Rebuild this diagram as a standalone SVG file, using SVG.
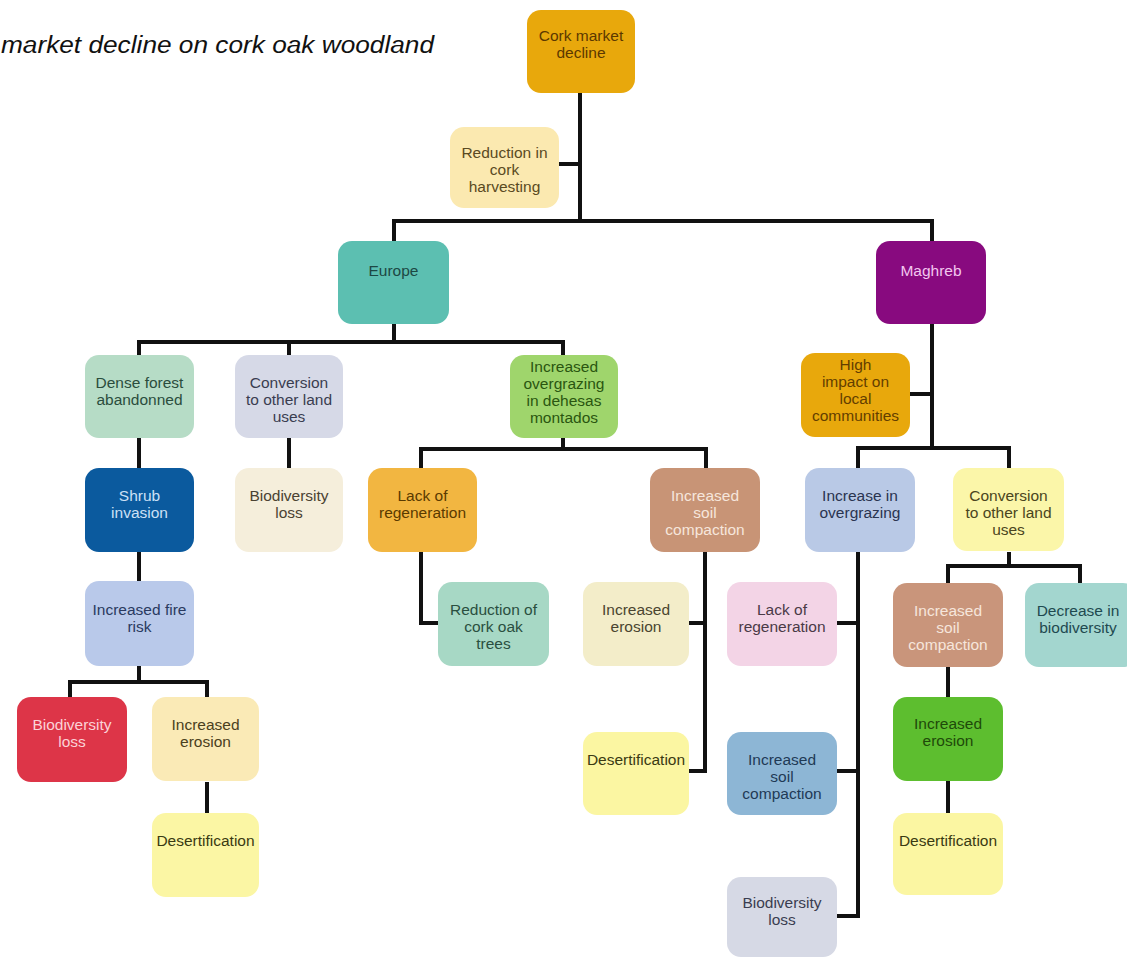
<svg xmlns="http://www.w3.org/2000/svg" width="1127" height="959" viewBox="0 0 1127 959">
<style>
  .n rect { rx: 14px; ry: 14px; }
  text { font-family: "Liberation Sans", Arial, sans-serif; font-size: 15.5px; text-anchor: middle; }
  .title { font-size: 23px; font-style: italic; text-anchor: start; fill: #111; }
  .c path { fill: none; stroke: #111; stroke-width: 4; stroke-linejoin: miter; stroke-linecap: butt; }
</style>
<rect width="1127" height="959" fill="#ffffff"/>
<text class="title" x="1" y="53" textLength="433" lengthAdjust="spacingAndGlyphs">market decline on cork oak woodland</text>

<g class="c" id="connectors">
  <path d="M580 93 V221"/>
  <path d="M559 164 H580"/>
  <path d="M394 241 V221 H932 V241"/>
  <path d="M394 324 V342"/>
  <path d="M139 355 V342 H563 V355"/>
  <path d="M289 342 V355"/>
  <path d="M139 438 V468"/>
  <path d="M139 552 V581"/>
  <path d="M289 438 V468"/>
  <path d="M563 438 V449"/>
  <path d="M421 468 V449 H706 V468"/>
  <path d="M139 666 V682"/>
  <path d="M70 697 V682 H207 V697"/>
  <path d="M207 782 V813"/>
  <path d="M421 552 V623 H438"/>
  <path d="M689 623 H705 V552"/>
  <path d="M705 623 V771 H689"/>
  <path d="M932 324 V448"/>
  <path d="M910 394 H932"/>
  <path d="M858 468 V448 H1009 V468"/>
  <path d="M858 552 V916 H837"/>
  <path d="M837 623 H858"/>
  <path d="M837 771 H858"/>
  <path d="M1009 552 V566"/>
  <path d="M948 583 V566 H1080 V583"/>
  <path d="M948 667 V697"/>
  <path d="M948 781 V813"/>
</g>

<g class="n" id="cork-market-decline">
  <rect x="527" y="10" width="108" height="83" fill="#e8a80c"/>
  <text fill="#5c3800"><tspan x="581" y="41">Cork market</tspan><tspan x="581" y="58">decline</tspan></text>
</g>
<g class="n" id="reduction-cork-harvesting">
  <rect x="450" y="127" width="109" height="81" fill="#fbe9b0"/>
  <text fill="#5a4a22"><tspan x="504.5" y="158">Reduction in</tspan><tspan x="504.5" y="175">cork</tspan><tspan x="504.5" y="192">harvesting</tspan></text>
</g>
<g class="n" id="europe">
  <rect x="338" y="241" width="111" height="83" fill="#5cbfb1"/>
  <text fill="#1d4844"><tspan x="393.5" y="276">Europe</tspan></text>
</g>
<g class="n" id="maghreb">
  <rect x="876" y="241" width="110" height="83" fill="#880a7f"/>
  <text fill="#f2c6ef"><tspan x="931" y="276">Maghreb</tspan></text>
</g>
<g class="n" id="dense-forest">
  <rect x="85" y="355" width="109" height="83" fill="#b6dcc6"/>
  <text fill="#2b4d3d"><tspan x="139.5" y="388">Dense forest</tspan><tspan x="139.5" y="405">abandonned</tspan></text>
</g>
<g class="n" id="conversion-europe">
  <rect x="235" y="355" width="108" height="83" fill="#d6d9e7"/>
  <text fill="#3a3d50"><tspan x="289" y="388">Conversion</tspan><tspan x="289" y="405">to other land</tspan><tspan x="289" y="422">uses</tspan></text>
</g>
<g class="n" id="overgrazing-dehesas">
  <rect x="510" y="355" width="108" height="83" fill="#9fd56c"/>
  <text fill="#2a5610"><tspan x="564" y="372">Increased</tspan><tspan x="564" y="389">overgrazing</tspan><tspan x="564" y="406">in dehesas</tspan><tspan x="564" y="423">montados</tspan></text>
</g>
<g class="n" id="high-impact">
  <rect x="801" y="353" width="109" height="84" fill="#e8a80c"/>
  <text fill="#633e00"><tspan x="855.5" y="370">High</tspan><tspan x="855.5" y="387">impact on</tspan><tspan x="855.5" y="404">local</tspan><tspan x="855.5" y="421">communities</tspan></text>
</g>
<g class="n" id="shrub-invasion">
  <rect x="85" y="468" width="109" height="84" fill="#0b5a9e"/>
  <text fill="#cde0f6"><tspan x="139.5" y="501">Shrub</tspan><tspan x="139.5" y="518">invasion</tspan></text>
</g>
<g class="n" id="biodiversity-loss-europe">
  <rect x="235" y="468" width="108" height="84" fill="#f5eedb"/>
  <text fill="#4a4232"><tspan x="289" y="501">Biodiversity</tspan><tspan x="289" y="518">loss</tspan></text>
</g>
<g class="n" id="lack-regeneration-europe">
  <rect x="368" y="468" width="109" height="84" fill="#f2b641"/>
  <text fill="#5a3a00"><tspan x="422.5" y="501">Lack of</tspan><tspan x="422.5" y="518">regeneration</tspan></text>
</g>
<g class="n" id="soil-compaction-europe">
  <rect x="650" y="468" width="110" height="84" fill="#c89476"/>
  <text fill="#f6e6dc"><tspan x="705" y="501">Increased</tspan><tspan x="705" y="518">soil</tspan><tspan x="705" y="535">compaction</tspan></text>
</g>
<g class="n" id="increase-overgrazing">
  <rect x="805" y="468" width="110" height="84" fill="#b9c9e6"/>
  <text fill="#2a3450"><tspan x="860" y="501">Increase in</tspan><tspan x="860" y="518">overgrazing</tspan></text>
</g>
<g class="n" id="conversion-maghreb">
  <rect x="953" y="468" width="111" height="83" fill="#fbf6a9"/>
  <text fill="#4a4520"><tspan x="1008.5" y="501">Conversion</tspan><tspan x="1008.5" y="518">to other land</tspan><tspan x="1008.5" y="535">uses</tspan></text>
</g>
<g class="n" id="fire-risk">
  <rect x="85" y="581" width="109" height="85" fill="#b9c9ea"/>
  <text fill="#2a3a60"><tspan x="139.5" y="615">Increased fire</tspan><tspan x="139.5" y="632">risk</tspan></text>
</g>
<g class="n" id="reduction-cork-oak">
  <rect x="438" y="582" width="111" height="84" fill="#a7d8c5"/>
  <text fill="#2a4f40"><tspan x="493.5" y="615">Reduction of</tspan><tspan x="493.5" y="632">cork oak</tspan><tspan x="493.5" y="649">trees</tspan></text>
</g>
<g class="n" id="erosion-middle">
  <rect x="583" y="582" width="106" height="84" fill="#f3edc9"/>
  <text fill="#4a4530"><tspan x="636" y="615">Increased</tspan><tspan x="636" y="632">erosion</tspan></text>
</g>
<g class="n" id="lack-regeneration-maghreb">
  <rect x="727" y="582" width="110" height="84" fill="#f3d4e6"/>
  <text fill="#4a3a46"><tspan x="782" y="615">Lack of</tspan><tspan x="782" y="632">regeneration</tspan></text>
</g>
<g class="n" id="soil-compaction-maghreb">
  <rect x="893" y="583" width="110" height="84" fill="#c9957b"/>
  <text fill="#f6e6dc"><tspan x="948" y="616">Increased</tspan><tspan x="948" y="633">soil</tspan><tspan x="948" y="650">compaction</tspan></text>
</g>
<g class="n" id="decrease-biodiversity">
  <rect x="1025" y="583" width="112" height="84" fill="#a3d6cf"/>
  <text fill="#1f4a50"><tspan x="1078" y="616">Decrease in</tspan><tspan x="1078" y="633">biodiversity</tspan></text>
</g>
<g class="n" id="biodiversity-loss-red">
  <rect x="17" y="697" width="110" height="85" fill="#dd3548"/>
  <text fill="#fbd2d7"><tspan x="72" y="730">Biodiversity</tspan><tspan x="72" y="747">loss</tspan></text>
</g>
<g class="n" id="erosion-left">
  <rect x="152" y="697" width="107" height="84" fill="#faeab6"/>
  <text fill="#4a4020"><tspan x="205.5" y="730">Increased</tspan><tspan x="205.5" y="747">erosion</tspan></text>
</g>
<g class="n" id="erosion-green">
  <rect x="893" y="697" width="110" height="84" fill="#5dbe2f"/>
  <text fill="#1f4a0a"><tspan x="948" y="729">Increased</tspan><tspan x="948" y="746">erosion</tspan></text>
</g>
<g class="n" id="desertification-middle">
  <rect x="583" y="732" width="106" height="83" fill="#fbf6a2"/>
  <text fill="#3a3a12"><tspan x="636" y="765">Desertification</tspan></text>
</g>
<g class="n" id="soil-compaction-blue">
  <rect x="727" y="732" width="110" height="83" fill="#8db6d5"/>
  <text fill="#1f3a55"><tspan x="782" y="765">Increased</tspan><tspan x="782" y="782">soil</tspan><tspan x="782" y="799">compaction</tspan></text>
</g>
<g class="n" id="desertification-left">
  <rect x="152" y="813" width="107" height="84" fill="#fbf6a4"/>
  <text fill="#3a3a12"><tspan x="205.5" y="846">Desertification</tspan></text>
</g>
<g class="n" id="desertification-right">
  <rect x="893" y="813" width="110" height="82" fill="#fbf6a2"/>
  <text fill="#3a3a12"><tspan x="948" y="846">Desertification</tspan></text>
</g>
<g class="n" id="biodiversity-loss-gray">
  <rect x="727" y="877" width="110" height="80" fill="#d6d9e5"/>
  <text fill="#3a3d50"><tspan x="782" y="908">Biodiversity</tspan><tspan x="782" y="925">loss</tspan></text>
</g>
</svg>
